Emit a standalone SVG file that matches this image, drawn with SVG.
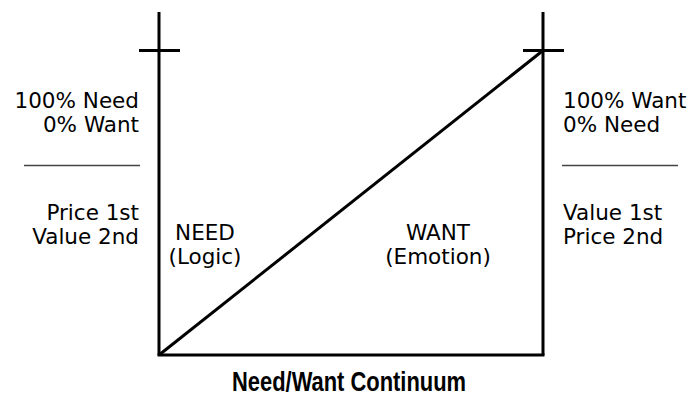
<svg xmlns="http://www.w3.org/2000/svg" width="690" height="411" viewBox="0 0 690 411">
<style>
.t{font-family:"DejaVu Sans","Verdana",sans-serif;font-size:21.5px;fill:#000}
.r{text-anchor:end}
.m{text-anchor:middle}
.ln{stroke:#000;stroke-width:3;fill:none}
.sep{stroke:#444;stroke-width:1.5}
.title{font-family:"Liberation Sans",Arial,sans-serif;font-weight:bold;font-size:27px;text-anchor:middle}
</style>
<rect width="690" height="411" fill="#fff"/>
<g id="connectors">
<line class="ln" x1="159" y1="12" x2="159" y2="355"/>
<line class="ln" x1="543" y1="12" x2="543" y2="355"/>
<line class="ln" x1="157.5" y1="355" x2="544.5" y2="355"/>
<line class="ln" x1="139" y1="50.5" x2="180" y2="50.5"/>
<line class="ln" x1="523" y1="50.5" x2="564" y2="50.5"/>
<line class="ln" x1="159" y1="355" x2="543" y2="50.5"/>
</g>
<g id="left-labels">
<text class="t r" x="139" y="108">100% Need</text>
<text class="t r" x="139" y="132">0% Want</text>
<line class="sep" x1="24" y1="165.5" x2="140" y2="165.5"/>
<text class="t r" x="139" y="220">Price 1st</text>
<text class="t r" x="139" y="244">Value 2nd</text>
</g>
<g id="need">
<text class="t m" x="205" y="240">NEED</text>
<text class="t m" x="205" y="264">(Logic)</text>
</g>
<g id="want">
<text class="t m" x="438" y="240">WANT</text>
<text class="t m" x="438" y="264">(Emotion)</text>
</g>
<g id="right-labels">
<text class="t" x="563" y="108">100% Want</text>
<text class="t" x="563" y="132">0% Need</text>
<line class="sep" x1="562" y1="165.5" x2="678" y2="165.5"/>
<text class="t" x="563" y="220">Value 1st</text>
<text class="t" x="563" y="244">Price 2nd</text>
</g>
<g id="title">
<text class="title" x="349" y="391" textLength="234" lengthAdjust="spacingAndGlyphs">Need/Want Continuum</text>
</g>
</svg>
